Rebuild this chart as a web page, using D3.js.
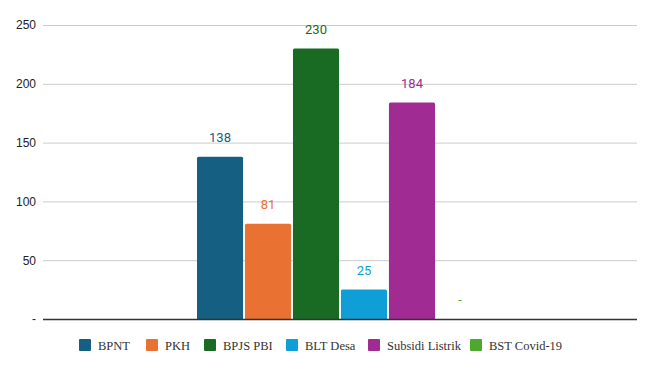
<!DOCTYPE html>
<html>
<head>
<meta charset="utf-8">
<script src="https://cdn.jsdelivr.net/npm/d3@7"></script>
<style>
  body { margin: 0; background: #fff; }
  .tick text { font-family: "Liberation Sans", Arial, sans-serif; font-size: 12px; fill: #222; }
  .val-label { font-family: Roboto, sans-serif; font-size: 13px; text-anchor: middle; }
  .legend text { font-family: "Liberation Serif", "Times New Roman", serif; font-size: 12.5px; font-weight: normal; fill: #333; }
</style>
</head>
<body>
<div id="chart"></div>
<script>
// data
const series = ["BPNT", "PKH", "BPJS PBI", "BLT Desa", "Subsidi Listrik", "BST Covid-19"];
const values = [138, 81, 230, 25, 184, 0];
const colors = ["#156082", "#E97132", "#196B24", "#0F9ED5", "#A02B93", "#4EA72E"];
const yTicks = [0, 50, 100, 150, 200, 250];

const margin = { top: 25, right: 18, bottom: 52, left: 43 };
const width = 655 - margin.left - margin.right;
const height = 371 - margin.top - margin.bottom;

const svg = d3.select("#chart").append("svg")
    .attr("width", 655)
    .attr("height", 371);

const g = svg.append("g")
    .attr("transform", `translate(${margin.left},${margin.top})`);

// scales
const y = d3.scaleLinear().domain([0, 250]).range([height, 0]);
const x = d3.scaleBand()
    .domain(series)
    .range([154, 440])
    .paddingInner(0.04)
    .paddingOuter(0);

// gridlines
g.selectAll("line.grid")
    .data(yTicks.filter(d => d > 0))
    .enter().append("line")
    .attr("class", "grid")
    .attr("x1", 0).attr("x2", width)
    .attr("y1", d => y(d) + 0.5).attr("y2", d => y(d) + 0.5)
    .style("stroke", "#cccccc")
    .style("stroke-width", 1);

// y axis
const yAxis = g.append("g")
    .call(d3.axisLeft(y).tickValues(yTicks).tickSize(0).tickPadding(7)
        .tickFormat(d => d === 0 ? "-" : d));
yAxis.select(".domain").remove();

// bars
g.selectAll("path.bar")
    .data(series)
    .enter().append("path")
    .attr("class", "bar")
    .attr("d", (d, i) => {
        const x0 = x(d), w = x.bandwidth(), y0 = y(values[i]), y1 = y(0), r = 1.5;
        if (values[i] === 0) return "";
        return `M${x0},${y1}V${y0 + r}Q${x0},${y0} ${x0 + r},${y0}H${x0 + w - r}Q${x0 + w},${y0} ${x0 + w},${y0 + r}V${y1}Z`;
    })
    .style("fill", (d, i) => colors[i]);

// value labels
g.selectAll("text.val-label")
    .data(series)
    .enter().append("text")
    .attr("class", "val-label")
    .attr("x", d => x(d) + x.bandwidth() / 2)
    .attr("y", (d, i) => y(values[i]) - 15)
    .style("fill", (d, i) => colors[i])
    .text((d, i) => values[i] === 0 ? "-" : values[i]);

// baseline
g.append("line")
    .attr("x1", 0).attr("x2", width)
    .attr("y1", y(0) + 0.5).attr("y2", y(0) + 0.5)
    .style("stroke", "#333")
    .style("stroke-width", 1.5);

// legend
const legendX = [79, 146, 204, 286, 368, 470];
const legend = svg.append("g").attr("class", "legend")
    .attr("transform", "translate(0,339)");
const items = legend.selectAll("g")
    .data(series)
    .enter().append("g")
    .attr("transform", (d, i) => `translate(${legendX[i]},0)`);
items.append("rect")
    .attr("width", 12).attr("height", 12).attr("rx", 1)
    .style("fill", (d, i) => colors[i]);
items.append("text")
    .attr("x", 19).attr("y", 10.5)
    .text(d => d);
</script>
</body>
</html>
